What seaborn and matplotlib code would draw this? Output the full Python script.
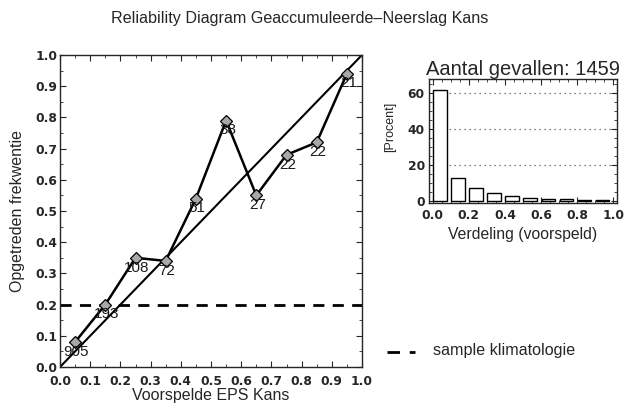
import matplotlib
matplotlib.use("Agg")
import matplotlib.pyplot as plt
import seaborn as sns
import numpy as np
import pandas as pd
from matplotlib.ticker import MultipleLocator

# ---- data ----
forecast_prob = [0.05, 0.15, 0.25, 0.35, 0.45, 0.55, 0.65, 0.75, 0.85, 0.95]
observed_freq = [0.08, 0.20, 0.35, 0.34, 0.54, 0.79, 0.55, 0.68, 0.72, 0.94]
counts = [905, 193, 108, 72, 51, 38, 27, 22, 22, 21]
hist_percent = [62.0, 13.0, 7.4, 4.6, 3.0, 2.0, 1.5, 1.1, 0.9, 0.6]
climatology = 0.20
total_cases = 1459

df = pd.DataFrame({"p": forecast_prob, "f": observed_freq, "n": counts})
dh = pd.DataFrame({"p": forecast_prob, "pct": hist_percent})

sns.set_style("ticks")
plt.rcParams["font.family"] = ["Liberation Sans", "DejaVu Sans"]
plt.rcParams["xtick.direction"] = "in"
plt.rcParams["ytick.direction"] = "in"

TICKFONT = dict(family="DejaVu Sans", weight="bold", size=8.8)

W, H = 624, 408
fig = plt.figure(figsize=(W / 100, H / 100), dpi=100)

def px_axes(l, t, r, b):
    return fig.add_axes([l / W, 1 - b / H, (r - l) / W, (b - t) / H])

# ---- main reliability diagram ----
ax = px_axes(60, 55, 362, 367)
ax.plot([0, 1], [0, 1], color="black", lw=1.5)
ax.plot([0, 1], [climatology, climatology], color="black", lw=2.0, ls=(0, (4, 3)))
sns.lineplot(data=df, x="p", y="f", ax=ax, color="black", lw=1.8,
             marker="D", markersize=6.5, markerfacecolor="#a8a8a8",
             markeredgecolor="black", markeredgewidth=0.9)
for p, f, n in zip(forecast_prob, observed_freq, counts):
    ax.annotate(str(n), (p, f), xytext=(1, -7), textcoords="offset points",
                ha="center", va="center", fontsize=11, color="#1a1a1a")
ax.set_xlim(0, 1)
ax.set_ylim(0, 1)
ticks = np.round(np.arange(0, 1.01, 0.1), 1)
ax.set_xticks(ticks)
ax.set_yticks(ticks)
ax.set_xticklabels([f"{v:.1f}" for v in ticks], fontdict=TICKFONT)
ax.set_yticklabels([f"{v:.1f}" for v in ticks], fontdict=TICKFONT)
ax.xaxis.set_minor_locator(MultipleLocator(0.05))
ax.yaxis.set_minor_locator(MultipleLocator(0.05))
ax.tick_params(which="both", top=True, right=True)
ax.tick_params(axis="x", which="major", pad=6)
ax.tick_params(axis="y", which="major", pad=2)
ax.tick_params(which="major", length=4)
ax.tick_params(which="minor", length=2)
ax.set_xlabel("Voorspelde EPS Kans", fontsize=11.5, labelpad=0)
ax.set_ylabel("Opgetreden frekwentie", fontsize=11.5, labelpad=7)
for s in ax.spines.values():
    s.set_linewidth(1.0)

# ---- histogram ----
ah = px_axes(429, 79, 617, 203)
sns.histplot(data=dh, x="p", weights="pct", bins=10, binrange=(-0.01, 0.99),
             shrink=0.75, ax=ah, color="white", edgecolor="black", linewidth=1.0,
             alpha=1)
for yv in [20, 40, 60]:
    ah.axhline(yv, color="#555555", lw=0.9, ls=(0, (1, 3)), zorder=0)
ah.set_xlim(-0.02, 1.02)
ah.set_ylim(-1, 68)
hx = [0, 0.2, 0.4, 0.6, 0.8, 1.0]
ah.set_xticks(hx)
ah.set_xticklabels([f"{v:.1f}" for v in hx], fontdict=TICKFONT)
ah.set_yticks([0, 20, 40, 60])
ah.set_yticklabels(["0", "20", "40", "60"], fontdict=TICKFONT)
ah.xaxis.set_minor_locator(MultipleLocator(0.05))
ah.yaxis.set_minor_locator(MultipleLocator(5))
ah.tick_params(which="both", top=True, right=True)
ah.tick_params(axis="x", which="major", pad=4)
ah.tick_params(axis="y", which="major", pad=3)
ah.tick_params(which="major", length=4)
ah.tick_params(which="minor", length=2)
ah.set_xlabel("Verdeling (voorspeld)", fontsize=11.3, labelpad=4)
ah.set_ylabel("[Procent]", fontsize=9, labelpad=1)
ah.yaxis.set_label_coords(-0.175, 0.61)
ah.set_title(f"Aantal gevallen: {total_cases}", fontsize=14.5, pad=3)
for s in ah.spines.values():
    s.set_linewidth(1.0)

# ---- legend ----
fig.add_artist(plt.Line2D([387 / W, 415 / W], [1 - 352 / H, 1 - 352 / H],
                          color="black", lw=2.0, ls=(0, (4.5, 3.5)),
                          transform=fig.transFigure))
fig.text(433 / W, 1 - 351 / H, "sample klimatologie", fontsize=11.6,
         va="center", ha="left")

# ---- title ----
fig.text(300 / W, 1 - 18 / H, "Reliability Diagram Geaccumuleerde\u2013Neerslag Kans",
         fontsize=11.6, ha="center", va="center")

fig.savefig("out.png", dpi=100)
